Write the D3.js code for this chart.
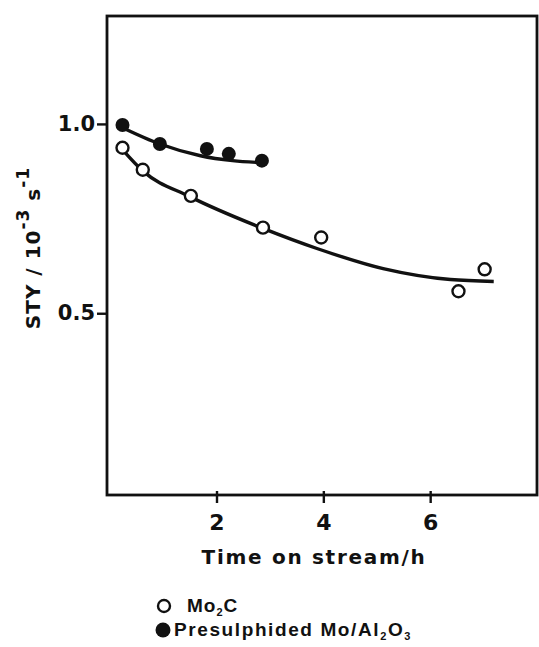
<!DOCTYPE html>
<html>
<head>
<meta charset="utf-8">
<script src="https://cdn.jsdelivr.net/npm/d3@7"></script>
<style>
  body { margin: 0; background: #fff; }
  svg text { font-family: "DejaVu Sans", sans-serif; font-weight: bold; fill: #111; }
  svg .legend text { font-family: "Liberation Sans", Arial, sans-serif; }
</style>
</head>
<body>
<svg id="chart" width="539" height="647"></svg>
<script>
// measured points
const mo2cTime = [0.24, 0.62, 1.52, 2.87, 3.96, 6.53, 7.02];
const mo2cSty  = [0.937, 0.879, 0.81, 0.726, 0.70, 0.558, 0.616];
const sulfTime = [0.24, 0.94, 1.82, 2.23, 2.85];
const sulfSty  = [0.997, 0.947, 0.934, 0.921, 0.903];

// hand drawn fit lines
const mo2cFitTime = [0.26, 0.62, 1.5, 2.87, 3.88, 5.12, 6.38, 7.19];
const mo2cFitSty  = [0.929, 0.876, 0.808, 0.724, 0.671, 0.618, 0.589, 0.584];
const sulfFitTime = [0.24, 0.94, 1.7, 2.3, 2.95];
const sulfFitSty  = [0.99, 0.947, 0.916, 0.903, 0.897];

const xTicks = [2, 4, 6];
const yTicks = [1.0, 0.5];

const svg = d3.select("#chart");
const plotLeft = 107, plotRight = 537, plotTop = 16, plotBottom = 495;

const x = d3.scaleLinear().domain([-0.05, 8]).range([plotLeft, plotRight]);
const y = d3.scaleLinear().domain([0.02, 1.285]).range([plotBottom, plotTop]);

// frame
svg.append("rect")
    .attr("x", plotLeft).attr("y", plotTop)
    .attr("width", plotRight - plotLeft).attr("height", plotBottom - plotTop)
    .attr("fill", "none").attr("stroke", "#111").attr("stroke-width", 2.8);

// axes
const xAxis = svg.append("g")
    .attr("transform", `translate(0,${plotBottom})`)
    .call(d3.axisBottom(x).tickValues(xTicks).tickSize(8).tickPadding(11).tickFormat(d3.format("d")));
xAxis.select(".domain").remove();
xAxis.selectAll("line").attr("stroke", "#111").attr("stroke-width", 2.4).attr("y1", -4);
xAxis.selectAll("text").attr("font-size", 22).attr("font-family", "DejaVu Sans");

const yAxis = svg.append("g")
    .attr("transform", `translate(${plotLeft},0)`)
    .call(d3.axisLeft(y).tickValues(yTicks).tickSize(10).tickPadding(2).tickFormat(d3.format(".1f")));
yAxis.select(".domain").remove();
yAxis.selectAll("line").attr("stroke", "#111").attr("stroke-width", 2.4);
yAxis.selectAll("text").attr("font-size", 21).attr("font-family", "DejaVu Sans");

// axis titles
svg.append("text")
    .attr("x", 314).attr("y", 564)
    .attr("text-anchor", "middle")
    .attr("font-size", 20)
    .attr("letter-spacing", 1.7)
    .text("Time on stream/h");

const yTitle = svg.append("text")
    .attr("transform", "translate(40,248) rotate(-90)")
    .attr("text-anchor", "middle")
    .attr("font-size", 20)
    .attr("letter-spacing", 1);
yTitle.append("tspan").text("STY / 10");
yTitle.append("tspan").attr("dy", -11).attr("font-size", 17).text("-3");
yTitle.append("tspan").attr("dy", 11).text(" s");
yTitle.append("tspan").attr("dy", -11).attr("font-size", 17).text("-1");

// fit curves
const line = d3.line()
    .x(d => x(d[0]))
    .y(d => y(d[1]))
    .curve(d3.curveMonotoneX);

svg.append("path")
    .datum(d3.zip(mo2cFitTime, mo2cFitSty))
    .attr("d", line)
    .attr("fill", "none").attr("stroke", "#111").attr("stroke-width", 3.4);

svg.append("path")
    .datum(d3.zip(sulfFitTime, sulfFitSty))
    .attr("d", line)
    .attr("fill", "none").attr("stroke", "#111").attr("stroke-width", 3.4);

// points
svg.selectAll(".open")
    .data(d3.zip(mo2cTime, mo2cSty))
    .enter()
    .append("circle")
    .attr("class", "open")
    .attr("cx", d => x(d[0]))
    .attr("cy", d => y(d[1]))
    .attr("r", 6)
    .attr("fill", "#fff").attr("stroke", "#111").attr("stroke-width", 2.4);

svg.selectAll(".filled")
    .data(d3.zip(sulfTime, sulfSty))
    .enter()
    .append("circle")
    .attr("class", "filled")
    .attr("cx", d => x(d[0]))
    .attr("cy", d => y(d[1]))
    .attr("r", 7)
    .attr("fill", "#111");

// legend
const legend = svg.append("g").attr("class", "legend");
legend.append("circle").attr("cx", 164).attr("cy", 606).attr("r", 6)
    .attr("fill", "#fff").attr("stroke", "#111").attr("stroke-width", 2.4);
const l1 = legend.append("text").attr("x", 187).attr("y", 612).attr("font-size", 19).attr("letter-spacing", 1);
l1.append("tspan").text("Mo");
l1.append("tspan").attr("dy", 4).attr("font-size", 11).text("2");
l1.append("tspan").attr("dy", -4).text("C");

legend.append("circle").attr("cx", 163).attr("cy", 630).attr("r", 7.5).attr("fill", "#111");
const l2 = legend.append("text").attr("x", 174).attr("y", 636).attr("font-size", 19).attr("letter-spacing", 1.6);
l2.append("tspan").text("Presulphided Mo/Al");
l2.append("tspan").attr("dy", 4).attr("font-size", 11).text("2");
l2.append("tspan").attr("dy", -4).text("O");
l2.append("tspan").attr("dy", 4).attr("font-size", 11).text("3");
</script>
</body>
</html>
